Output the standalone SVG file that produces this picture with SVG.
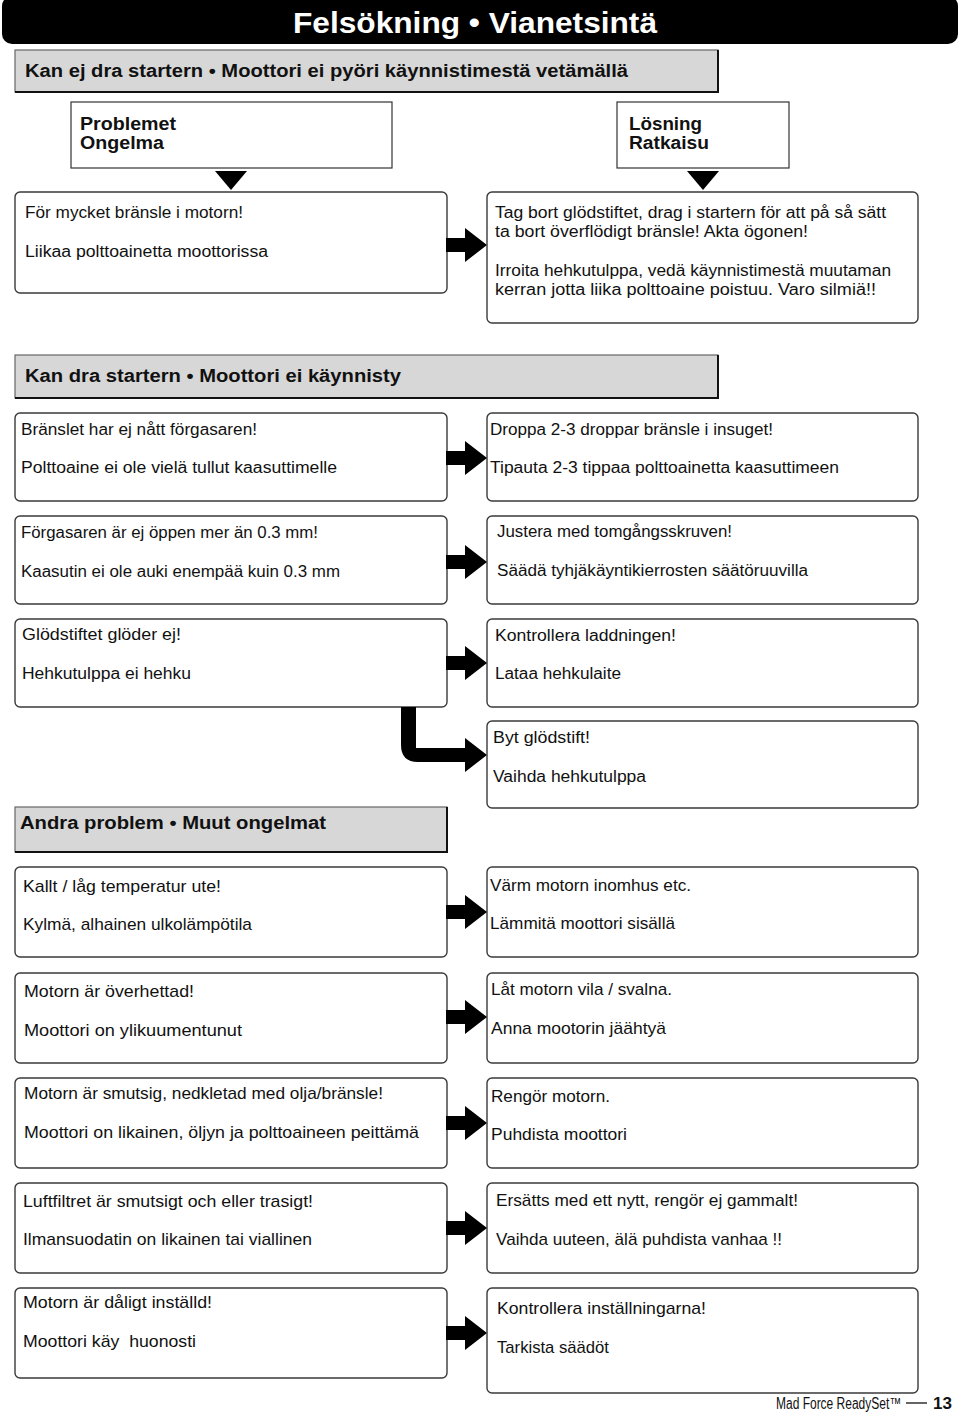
<svg xmlns="http://www.w3.org/2000/svg" width="960" height="1419" viewBox="0 0 960 1419">
<style>
text{font-family:"Liberation Sans",Arial,sans-serif;fill:#111}
.t{font-size:16px}
.t3{font-size:17px}
.hb{font-size:17.5px;font-weight:bold}
.box{fill:#fff;stroke:#3a3a3a;stroke-width:1.4}
.hdr{fill:#d7d7d7;stroke:#666;stroke-width:1.2}
.shd{fill:none;stroke:#111;stroke-width:2}
.sq{fill:#fff;stroke:#333;stroke-width:1.2}
.ar{fill:#000}
</style>
<defs>
<path id="arr" d="M-41,-7 H-22 V-17 L0,0 L-22,17 V7 H-41 Z"/>
</defs>
<rect width="960" height="1419" fill="#fff"/>
<g id="title">
<rect x="2" y="-4" width="956" height="48" rx="10" fill="#000"/>
<text x="293" y="33" style="font-size:29px;font-weight:bold;fill:#fff" textLength="364" lengthAdjust="spacingAndGlyphs">Felsökning • Vianetsintä</text>
</g>
<g id="header1">
<rect class="hdr" x="15" y="50" width="703" height="42"/>
<polyline class="shd" points="15,92 718,92 718,50"/>
<text class="hb" x="25" y="77" textLength="603" lengthAdjust="spacingAndGlyphs">Kan ej dra startern • Moottori ei pyöri käynnistimestä vetämällä</text>
</g>
<g id="problemet">
<rect class="sq" x="71" y="102" width="321" height="66"/>
<text class="hb" x="80" y="130" textLength="96" lengthAdjust="spacingAndGlyphs">Problemet</text>
<text class="hb" x="80" y="149" textLength="84" lengthAdjust="spacingAndGlyphs">Ongelma</text>
</g>
<g id="losning">
<rect class="sq" x="617" y="102" width="172" height="66"/>
<text class="hb" x="629" y="130" textLength="73" lengthAdjust="spacingAndGlyphs">Lösning</text>
<text class="hb" x="629" y="149" textLength="80" lengthAdjust="spacingAndGlyphs">Ratkaisu</text>
</g>
<g id="p1">
<rect class="box" x="15" y="192" width="432" height="101" rx="5"/>
<text class="t" x="25" y="218" textLength="218" lengthAdjust="spacingAndGlyphs">För mycket bränsle i motorn!</text>
<text class="t" x="25" y="257" textLength="243" lengthAdjust="spacingAndGlyphs">Liikaa polttoainetta moottorissa</text>
</g>
<g id="s1">
<rect class="box" x="487" y="192" width="431" height="131" rx="5"/>
<text class="t" x="495" y="218" textLength="391" lengthAdjust="spacingAndGlyphs">Tag bort glödstiftet, drag i startern för att på så sätt</text>
<text class="t" x="495" y="237" textLength="313" lengthAdjust="spacingAndGlyphs">ta bort överflödigt bränsle! Akta ögonen!</text>
<text class="t" x="495" y="276" textLength="396" lengthAdjust="spacingAndGlyphs">Irroita hehkutulppa, vedä käynnistimestä muutaman</text>
<text class="t" x="495" y="295" textLength="381" lengthAdjust="spacingAndGlyphs">kerran jotta liika polttoaine poistuu. Varo silmiä!!</text>
</g>
<g id="header2">
<rect class="hdr" x="15" y="355" width="703" height="43"/>
<polyline class="shd" points="15,398 718,398 718,355"/>
<text class="hb" x="25" y="382" textLength="376" lengthAdjust="spacingAndGlyphs">Kan dra startern • Moottori ei käynnisty</text>
</g>
<g id="p2">
<rect class="box" x="15" y="413" width="432" height="88" rx="5"/>
<text class="t" x="21" y="435" textLength="236" lengthAdjust="spacingAndGlyphs">Bränslet har ej nått förgasaren!</text>
<text class="t" x="21" y="473" textLength="316" lengthAdjust="spacingAndGlyphs">Polttoaine ei ole vielä tullut kaasuttimelle</text>
</g>
<g id="s2">
<rect class="box" x="487" y="413" width="431" height="88" rx="5"/>
<text class="t" x="490" y="435" textLength="283" lengthAdjust="spacingAndGlyphs">Droppa 2-3 droppar bränsle i insuget!</text>
<text class="t" x="490" y="473" textLength="349" lengthAdjust="spacingAndGlyphs">Tipauta 2-3 tippaa polttoainetta kaasuttimeen</text>
</g>
<g id="p3">
<rect class="box" x="15" y="516" width="432" height="88" rx="5"/>
<text class="t" x="21" y="538" textLength="297" lengthAdjust="spacingAndGlyphs">Förgasaren är ej öppen mer än 0.3 mm!</text>
<text class="t" x="21" y="577" textLength="319" lengthAdjust="spacingAndGlyphs">Kaasutin ei ole auki enempää kuin 0.3 mm</text>
</g>
<g id="s3">
<rect class="box" x="487" y="516" width="431" height="88" rx="5"/>
<text class="t" x="497" y="537" textLength="235" lengthAdjust="spacingAndGlyphs">Justera med tomgångsskruven!</text>
<text class="t" x="497" y="576" textLength="311" lengthAdjust="spacingAndGlyphs">Säädä tyhjäkäyntikierrosten säätöruuvilla</text>
</g>
<g id="p4">
<rect class="box" x="15" y="619" width="432" height="88" rx="5"/>
<text class="t" x="22" y="640" textLength="159" lengthAdjust="spacingAndGlyphs">Glödstiftet glöder ej!</text>
<text class="t" x="22" y="679" textLength="169" lengthAdjust="spacingAndGlyphs">Hehkutulppa ei hehku</text>
</g>
<g id="s4">
<rect class="box" x="487" y="619" width="431" height="88" rx="5"/>
<text class="t" x="495" y="641" textLength="181" lengthAdjust="spacingAndGlyphs">Kontrollera laddningen!</text>
<text class="t" x="495" y="679" textLength="126" lengthAdjust="spacingAndGlyphs">Lataa hehkulaite</text>
</g>
<g id="s5">
<rect class="box" x="487" y="721" width="431" height="87" rx="5"/>
<text class="t" x="493" y="743" textLength="97" lengthAdjust="spacingAndGlyphs">Byt glödstift!</text>
<text class="t" x="493" y="782" textLength="153" lengthAdjust="spacingAndGlyphs">Vaihda hehkutulppa</text>
</g>
<g id="header3">
<rect class="hdr" x="15" y="807" width="432" height="45"/>
<polyline class="shd" points="15,852 447,852 447,807"/>
<text class="hb" x="20" y="829" style="font-size:18px" textLength="306" lengthAdjust="spacingAndGlyphs">Andra problem • Muut ongelmat</text>
</g>
<g id="p6">
<rect class="box" x="15" y="867" width="432" height="90" rx="5"/>
<text class="t3" x="23" y="892" textLength="198" lengthAdjust="spacingAndGlyphs">Kallt / låg temperatur ute!</text>
<text class="t3" x="23" y="930" textLength="229" lengthAdjust="spacingAndGlyphs">Kylmä, alhainen ulkolämpötila</text>
</g>
<g id="s6">
<rect class="box" x="487" y="867" width="431" height="90" rx="5"/>
<text class="t3" x="490" y="891" textLength="201" lengthAdjust="spacingAndGlyphs">Värm motorn inomhus etc.</text>
<text class="t3" x="490" y="929" textLength="185" lengthAdjust="spacingAndGlyphs">Lämmitä moottori sisällä</text>
</g>
<g id="p7">
<rect class="box" x="15" y="973" width="432" height="90" rx="5"/>
<text class="t3" x="24" y="997" textLength="170" lengthAdjust="spacingAndGlyphs">Motorn är överhettad!</text>
<text class="t3" x="24" y="1036" textLength="218" lengthAdjust="spacingAndGlyphs">Moottori on ylikuumentunut</text>
</g>
<g id="s7">
<rect class="box" x="487" y="973" width="431" height="90" rx="5"/>
<text class="t3" x="491" y="995" textLength="181" lengthAdjust="spacingAndGlyphs">Låt motorn vila / svalna.</text>
<text class="t3" x="491" y="1034" textLength="175" lengthAdjust="spacingAndGlyphs">Anna mootorin jäähtyä</text>
</g>
<g id="p8">
<rect class="box" x="15" y="1078" width="432" height="90" rx="5"/>
<text class="t3" x="24" y="1099" textLength="359" lengthAdjust="spacingAndGlyphs">Motorn är smutsig, nedkletad med olja/bränsle!</text>
<text class="t3" x="24" y="1138" textLength="395" lengthAdjust="spacingAndGlyphs">Moottori on likainen, öljyn ja polttoaineen peittämä</text>
</g>
<g id="s8">
<rect class="box" x="487" y="1078" width="431" height="90" rx="5"/>
<text class="t3" x="491" y="1102" textLength="119" lengthAdjust="spacingAndGlyphs">Rengör motorn.</text>
<text class="t3" x="491" y="1140" textLength="136" lengthAdjust="spacingAndGlyphs">Puhdista moottori</text>
</g>
<g id="p9">
<rect class="box" x="15" y="1183" width="432" height="90" rx="5"/>
<text class="t3" x="23" y="1207" textLength="290" lengthAdjust="spacingAndGlyphs">Luftfiltret är smutsigt och eller trasigt!</text>
<text class="t3" x="23" y="1245" textLength="289" lengthAdjust="spacingAndGlyphs">Ilmansuodatin on likainen tai viallinen</text>
</g>
<g id="s9">
<rect class="box" x="487" y="1183" width="431" height="90" rx="5"/>
<text class="t3" x="496" y="1206" textLength="302" lengthAdjust="spacingAndGlyphs">Ersätts med ett nytt, rengör ej gammalt!</text>
<text class="t3" x="496" y="1245" textLength="286" lengthAdjust="spacingAndGlyphs">Vaihda uuteen, älä puhdista vanhaa !!</text>
</g>
<g id="p10">
<rect class="box" x="15" y="1288" width="432" height="90" rx="5"/>
<text class="t3" x="23" y="1308" textLength="189" lengthAdjust="spacingAndGlyphs">Motorn är dåligt inställd!</text>
<text class="t3" x="23" y="1347" style="white-space:pre" textLength="173" lengthAdjust="spacingAndGlyphs">Moottori käy  huonosti</text>
</g>
<g id="s10">
<rect class="box" x="487" y="1288" width="431" height="105" rx="5"/>
<text class="t3" x="497" y="1314" textLength="209" lengthAdjust="spacingAndGlyphs">Kontrollera inställningarna!</text>
<text class="t3" x="497" y="1353" textLength="112" lengthAdjust="spacingAndGlyphs">Tarkista säädöt</text>
</g>
<g id="connectors" class="ar">
<polygon points="215,171 247,171 231,190"/>
<polygon points="687,171 719,171 703,190"/>
<use href="#arr" x="487" y="245"/>
<use href="#arr" x="487" y="458"/>
<use href="#arr" x="487" y="562"/>
<use href="#arr" x="487" y="663"/>
<path d="M401,707 V745 Q401,762 418,762 H465 V772 L487,755 L465,738 V748 H416 V707 Z"/>
<use href="#arr" x="487" y="912"/>
<use href="#arr" x="487" y="1017"/>
<use href="#arr" x="487" y="1123"/>
<use href="#arr" x="487" y="1228"/>
<use href="#arr" x="487" y="1333"/>
</g>
<g id="footer">
<text transform="translate(776,1409) scale(0.75,1)" x="0" y="0" style="font-size:16px">Mad Force ReadySet™</text>
<line x1="906" y1="1403" x2="927" y2="1403" stroke="#111" stroke-width="1.3"/>
<text x="933" y="1409" style="font-size:17px;font-weight:bold">13</text>
</g>
</svg>
